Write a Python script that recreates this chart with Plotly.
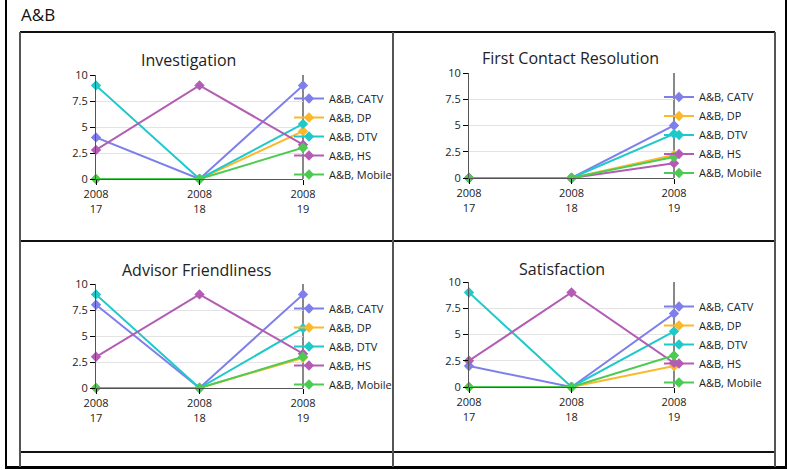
import plotly.graph_objects as go

# ---- data ----
periods = ["2008<br>17", "2008<br>18", "2008<br>19"]
series_names = ["A&B, CATV", "A&B, DP", "A&B, DTV", "A&B, HS", "A&B, Mobile"]
series_colors = ["#7f7fec", "#fcb82c", "#1fc9c9", "#b35cb3", "#4ccb52"]

panel_titles = ["Investigation", "First Contact Resolution", "Advisor Friendliness", "Satisfaction"]

investigation = [[4, 0, 9], [0, 0, 4.6], [9, 0, 5.3], [2.8, 9, 3.3], [0, 0, 3.0]]
first_contact = [[0, 0, 5], [0, 0, 2.2], [0, 0, 4.2], [0, 0, 1.4], [0, 0, 2.0]]
advisor = [[8, 0, 9], [0, 0, 2.9], [9, 0, 5.75], [3, 9, 3.3], [0, 0, 3.0]]
satisfaction = [[2, 0, 7], [0, 0, 2.0], [9, 0, 5.3], [2.5, 9, 2.3], [0, 0, 3.0]]

y_ticks = [0, 2.5, 5, 7.5, 10]
y_ticktext = ["0", "2.5", "5", "7.5", "10"]

panels = [investigation, first_contact, advisor, satisfaction]

W, H = 789, 470
FONT = "Open Sans"

def px(x):
    return x / W

def py(y):
    return 1 - y / H

# plot-area pixel boxes: (left, right, top, bottom)
boxes = [(96, 303, 75, 179), (469, 674, 73, 178), (96, 303, 284, 388), (469, 674, 282, 387)]
title_pos = [(188, 60), (570, 58), (196, 270), (562, 269)]
legend_pos = [(289, 136.5), (659, 135), (289, 346.5), (659, 344.5)]

fig = go.Figure()
layout = dict(
    width=W, height=H,
    margin=dict(l=0, r=0, t=0, b=0, pad=0, autoexpand=False),
    paper_bgcolor="white", plot_bgcolor="white",
    font=dict(family=FONT, color="#222", size=11),
    showlegend=True,
)
shapes = []
annotations = []

for i, data in enumerate(panels):
    n = i + 1
    suf = "" if n == 1 else str(n)
    lg = "legend" if n == 1 else f"legend{n}"
    for name, color, vals in zip(series_names, series_colors, data):
        fig.add_trace(go.Scatter(
            x=periods, y=vals, name=name, mode="lines+markers",
            line=dict(color=color, width=2),
            marker=dict(symbol="diamond", size=8, color=color),
            cliponaxis=False,
            xaxis=f"x{suf}", yaxis=f"y{suf}", legend=lg,
        ))
    l, r, t, b = boxes[i]
    layout[f"xaxis{suf}"] = dict(
        domain=[px(l), px(r)], anchor=f"y{suf}", type="category", range=[0, 2],
        showgrid=False, zeroline=False, showline=True, linecolor="#555", linewidth=1,
        ticks="outside", ticklen=5, tickcolor="#000", tickfont=dict(size=11, color="#222"),
        fixedrange=True, automargin=False,
    )
    layout[f"yaxis{suf}"] = dict(
        domain=[py(b), py(t)], anchor=f"x{suf}", range=[0, 10],
        tickvals=y_ticks, ticktext=y_ticktext,
        showgrid=True, gridcolor="#e3e3e3", gridwidth=1, zeroline=False,
        showline=True, linecolor="#555", linewidth=1,
        ticks="outside", ticklen=5, tickcolor="#000", tickfont=dict(size=11, color="#222"),
        fixedrange=True, automargin=False,
    )
    layout[lg] = dict(
        x=px(legend_pos[i][0]), y=py(legend_pos[i][1]), xanchor="left", yanchor="middle",
        bgcolor="rgba(0,0,0,0)", font=dict(size=11, color="#222"),
        tracegroupgap=0, itemwidth=30,
    )
    # right-hand vertical frame line of the plot area
    shapes.append(dict(
        type="line", xref=f"x{suf} domain", yref=f"y{suf} domain",
        x0=1, x1=1, y0=0, y1=1, line=dict(color="#888", width=2), layer="below",
    ))
    tx, ty = title_pos[i]
    annotations.append(dict(
        text=panel_titles[i], xref="paper", yref="paper", x=px(tx), y=py(ty),
        xanchor="center", yanchor="middle", showarrow=False,
        font=dict(size=16, color="#222", family=FONT),
    ))

# page title
annotations.append(dict(
    text="A&B", xref="paper", yref="paper", x=px(19), y=py(15),
    xanchor="left", yanchor="middle", showarrow=False,
    font=dict(size=17, color="#111", family=FONT),
))

def pline(x0, y0, x1, y1, color="#000", width=2):
    shapes.append(dict(type="line", xref="paper", yref="paper",
                       x0=px(x0), y0=py(y0), x1=px(x1), y1=py(y1),
                       line=dict(color=color, width=width)))

# outer frame
pline(6, 0, 6, 468, "#000", 2)
pline(786, 0, 786, 468, "#000", 2)
pline(5, 467.5, 787, 467.5, "#000", 3)
# table grid
pline(20, 32, 775, 32, "#111", 2)
pline(20, 241, 775, 241, "#111", 2)
pline(20, 452, 775, 452, "#111", 2)
pline(20, 32, 20, 467, "#555", 2)
pline(393, 32, 393, 467, "#555", 2)
pline(775, 32, 775, 467, "#555", 2)

layout["shapes"] = shapes
layout["annotations"] = annotations
fig.update_layout(**layout)

fig.write_html(
    "out.html",
    config={"displayModeBar": False},
    post_script="document.body.style.margin='0';document.body.style.overflow='hidden';",
)
